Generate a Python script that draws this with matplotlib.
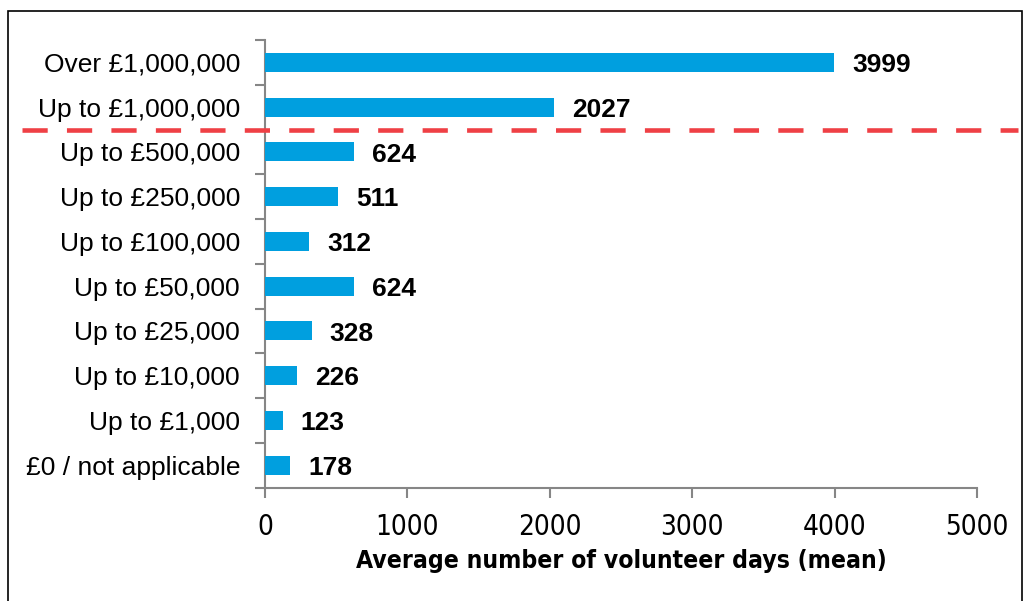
import matplotlib
matplotlib.use("Agg")
import matplotlib.pyplot as plt
from matplotlib.patches import Rectangle
from matplotlib.lines import Line2D
from matplotlib import font_manager

categories = ["£0 / not applicable", "Up to £1,000", "Up to £10,000", "Up to £25,000",
              "Up to £50,000", "Up to £100,000", "Up to £250,000", "Up to £500,000",
              "Up to £1,000,000", "Over £1,000,000"]
values = [178, 123, 226, 328, 624, 312, 511, 624, 2027, 3999]
xticks = [0, 1000, 2000, 3000, 4000, 5000]
xlabel = "Average number of volunteer days (mean)"
subtitle = "(up to spend per project, n=1,000)"


def is_narrow(f):
    return ("Narrow" in f.name or "Condensed" in f.name
            or f.stretch in ("condensed", "semi-condensed", "extra-condensed"))


narrow = None
narrow_bold = None
for f in font_manager.fontManager.ttflist:
    if not is_narrow(f):
        continue
    props = dict(family=f.name)
    if f.stretch in ("condensed", "semi-condensed", "extra-condensed"):
        props["stretch"] = f.stretch
    w = f.weight if isinstance(f.weight, int) else {"bold": 700, "normal": 400, "regular": 400}.get(str(f.weight), 400)
    if w >= 600 and narrow_bold is None and f.style == "normal":
        narrow_bold = dict(props, fontweight=w)
    if 350 <= w <= 450 and narrow is None and f.style == "normal":
        narrow = props

W, H = 1025, 601
fig = plt.figure(figsize=(W / 100, H / 100), dpi=100)
fig.patch.set_facecolor("white")

top_px, bot_px, left_px, right_px = 40, 487.6, 265, 977
ax = fig.add_axes([left_px / W, 1 - bot_px / H, (right_px - left_px) / W, (bot_px - top_px) / H])

bar_color = "#009FDF"
axis_color = "#868686"
y = list(range(len(categories)))
ax.barh(y, values, height=0.424, color=bar_color, zorder=3)
ax.set_xlim(0, 5000)
ax.set_ylim(-0.5, len(categories) - 0.5)

for yi, v in zip(y, values):
    ax.annotate(str(v), (v, yi - 0.06), xytext=(13, 0), textcoords="offset points",
                ha="left", va="center", fontsize=19, fontweight="bold",
                family="Liberation Sans", color="black")

ax.set_yticks(y)
ax.set_yticklabels(categories, fontsize=19, family="Liberation Sans")
ax.tick_params(axis="y", length=0, pad=18)
ax.set_yticks([i - 0.5 for i in range(len(categories) + 1)], minor=True)
ax.tick_params(axis="y", which="minor", length=7, width=1.5, color=axis_color, direction="out")

ax.set_xticks(xticks)
tick_font = dict(fontsize=20, **narrow) if narrow else dict(fontsize=18, family="Liberation Sans")
ax.set_xticklabels([str(t) for t in xticks], **tick_font)
ax.tick_params(axis="x", length=7, width=1.5, color=axis_color, direction="out", pad=11)

lab_font = dict(narrow_bold) if narrow_bold else dict(family="Liberation Sans", fontweight="bold")
lab = ax.set_xlabel(xlabel, labelpad=6, fontsize=20, **lab_font)

# size the axis title so that it spans the same width as in the reference (~530 px)
fig.canvas.draw()
r = fig.canvas.get_renderer()
wpx = lab.get_window_extent(r).width
lab.set_fontsize(20 * 530 / wpx)

for s in ["top", "right"]:
    ax.spines[s].set_visible(False)
for s in ["left", "bottom"]:
    ax.spines[s].set_color(axis_color)
    ax.spines[s].set_linewidth(1.5)

# dashed separator line
yl = 1 - 129.5 / H
fig.add_artist(Line2D([22 / W, 1018 / W], [yl, yl], transform=fig.transFigure,
                      color="#EF4045", lw=3.3, linestyle=(0, (5.5, 4.2))))

# outer frame
fig.add_artist(Rectangle((8 / W, -0.05), (1022 - 8) / W, 1 - 11.5 / H + 0.05,
                         transform=fig.transFigure, fill=False, edgecolor="black", lw=1.2))

# subtitle at top, mostly above the visible area as in the reference
fig.text(3 / W, 1 + 14 / H, subtitle, fontsize=18, family="Liberation Sans",
         ha="left", va="baseline")

fig.savefig("out.png", dpi=100)
